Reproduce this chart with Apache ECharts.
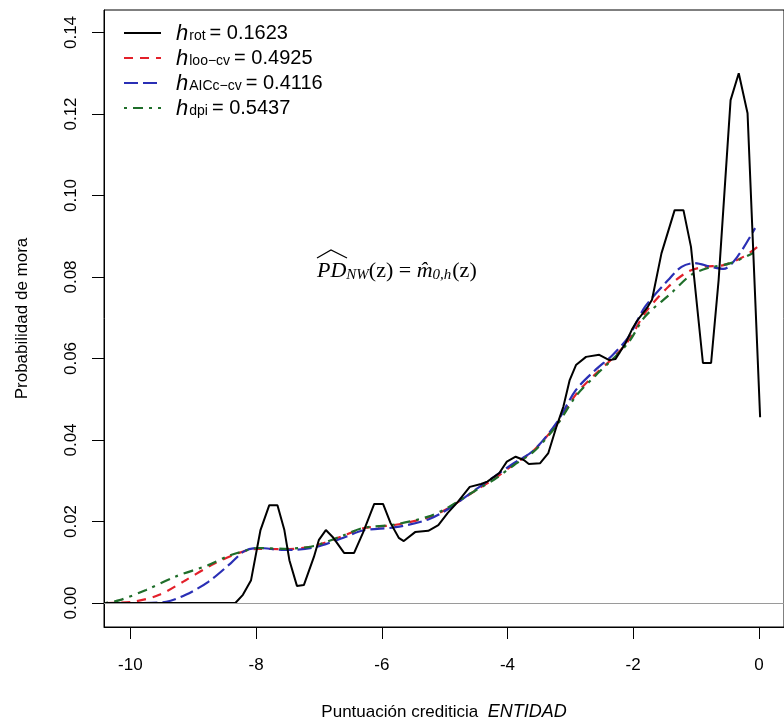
<!DOCTYPE html>
<html><head><meta charset="utf-8">
<script src="https://cdn.jsdelivr.net/npm/echarts@6/dist/echarts.min.js"></script>
<style>html,body{margin:0;padding:0;background:#fff}#c{width:784px;height:726px}</style>
</head><body><div id="c"></div>
<script>
// ---- data ----
const xTicks = [-10, -8, -6, -4, -2, 0];
const yTicks = [0, 0.02, 0.04, 0.06, 0.08, 0.10, 0.12, 0.14];

const rotLabel = 'rot', rotValue = '0.1623';
const looLabel = 'loo\u2212cv', looValue = '0.4925';
const aicLabel = 'AICc\u2212cv', aicValue = '0.4116';
const dpiLabel = 'dpi', dpiValue = '0.5437';

const rotX = [-10.4, -8.33, -8.21, -8.08, -7.93, -7.79, -7.66, -7.55, -7.47, -7.35, -7.24, -7.08, -7.00, -6.89, -6.77, -6.60, -6.44, -6.30, -6.12, -5.98, -5.86, -5.73, -5.65, -5.47, -5.26, -5.10, -4.95, -4.79, -4.60, -4.42, -4.32, -4.13, -4.01, -3.87, -3.74, -3.66, -3.48, -3.35, -3.22, -3.11, -3.01, -2.91, -2.75, -2.54, -2.38, -2.28, -2.12, -2.02, -1.94, -1.78, -1.70, -1.55, -1.34, -1.20, -1.08, -0.89, -0.76, -0.64, -0.45, -0.32, -0.18, 0.02];
const rotY = [0, 0, 0.0020, 0.0056, 0.0179, 0.0240, 0.0240, 0.0179, 0.0105, 0.0042, 0.0044, 0.0113, 0.0155, 0.0179, 0.0160, 0.0123, 0.0123, 0.0172, 0.0243, 0.0243, 0.0196, 0.0160, 0.0152, 0.0174, 0.0177, 0.0191, 0.0221, 0.0248, 0.0285, 0.0292, 0.0298, 0.0319, 0.0347, 0.0359, 0.0351, 0.0341, 0.0343, 0.0368, 0.0433, 0.0482, 0.0547, 0.0584, 0.0604, 0.0609, 0.0596, 0.0599, 0.0638, 0.0671, 0.0692, 0.0724, 0.0744, 0.0858, 0.0964, 0.0964, 0.0874, 0.0589, 0.0589, 0.0793, 0.1234, 0.1300, 0.1202, 0.0456];

const looX = [-10.4, -9.96, -9.54, -9.12, -8.71, -8.29, -7.97, -7.55, -7.08, -6.61, -6.30, -5.78, -5.26, -4.95, -4.52, -4.21, -3.90, -3.58, -3.22, -2.91, -2.60, -2.33, -2.07, -1.81, -1.44, -1.13, -0.87, -0.56, -0.24, 0.02];
const looY = [0, 0.0003, 0.0020, 0.0056, 0.0093, 0.0122, 0.0133, 0.0132, 0.0140, 0.0165, 0.0183, 0.0192, 0.0210, 0.0232, 0.0275, 0.0305, 0.0340, 0.0375, 0.0438, 0.0512, 0.0562, 0.0600, 0.0645, 0.0712, 0.0776, 0.0813, 0.0825, 0.0829, 0.0850, 0.0879];

const aicX = [-10.4, -9.8, -9.43, -9.12, -8.76, -8.40, -8.18, -7.97, -7.55, -7.08, -6.61, -6.30, -5.78, -5.26, -4.95, -4.52, -4.21, -3.90, -3.58, -3.22, -2.91, -2.60, -2.33, -2.07, -1.81, -1.44, -1.23, -1.03, -0.76, -0.56, -0.34, -0.06];
const aicY = [0, 0, 0.0003, 0.0020, 0.0052, 0.0098, 0.0128, 0.0135, 0.0130, 0.0136, 0.0160, 0.0178, 0.0186, 0.0205, 0.0230, 0.0277, 0.0310, 0.0343, 0.0375, 0.0442, 0.0523, 0.0572, 0.0608, 0.0654, 0.0727, 0.0793, 0.0825, 0.0834, 0.0825, 0.0820, 0.0850, 0.0920];

const dpiX = [-10.4, -10.17, -9.75, -9.28, -8.76, -8.40, -8.13, -7.97, -7.55, -7.08, -6.61, -6.30, -5.78, -5.26, -4.95, -4.52, -4.21, -3.90, -3.58, -3.22, -2.91, -2.60, -2.33, -2.07, -1.81, -1.39, -1.08, -0.81, -0.45, -0.09];
const dpiY = [0, 0.0007, 0.0032, 0.0065, 0.0093, 0.0118, 0.0130, 0.0135, 0.0133, 0.0140, 0.0166, 0.0184, 0.0193, 0.0212, 0.0234, 0.0275, 0.0303, 0.0338, 0.0372, 0.0435, 0.0508, 0.0558, 0.0598, 0.0640, 0.0703, 0.0761, 0.0805, 0.0822, 0.0834, 0.0859];

// ---- build ----
const pairs = (xs, ys) => xs.map((x, i) => [x, ys[i]]);
const SANS = '"Liberation Sans", Arial, sans-serif';
const SERIF = '"Liberation Serif", "DejaVu Serif", serif';

const chart = echarts.init(document.getElementById('c'), null, {renderer: 'canvas'});

function mk(name, data, color, type, width, smooth) {
  return {
    name, type: 'line', data, showSymbol: false, symbol: 'none', smooth,
    lineStyle: {color, width, type}, itemStyle: {color},
    z: 3, animation: false
  };
}

const names = ['rot', 'loo', 'aic', 'dpi'];
const legendText = {
  rot: [rotLabel, rotValue], loo: [looLabel, looValue],
  aic: [aicLabel, aicValue], dpi: [dpiLabel, dpiValue]
};

const series = [
  mk('rot', pairs(rotX, rotY), '#000000', 'solid', 2, false),
  mk('loo', pairs(looX, looY), '#e3202a', [9, 7], 2.2, 0.3),
  mk('aic', pairs(aicX, aicY), '#2a2fb5', [14, 5], 2.2, 0.3),
  mk('dpi', pairs(dpiX, dpiY), '#1f6e2a', [3, 6, 10, 6], 2.2, 0.3)
];
series[0].markLine = {
  silent: true, symbol: 'none', animation: false,
  label: {show: false},
  lineStyle: {color: '#9a9a9a', width: 1, type: 'solid'},
  data: [{yAxis: 0}]
};
series[0].z = 4;

chart.setOption({
  backgroundColor: '#ffffff',
  animation: false,
  grid: {left: 104, right: -10, top: 10, bottom: 99, show: true, borderColor: '#000', borderWidth: 1, backgroundColor: 'transparent'},
  xAxis: {
    type: 'value', min: -10.42, max: 0.4,
    name: 'Puntuación crediticia  {it|ENTIDAD}',
    nameLocation: 'middle', nameGap: 76,
    nameTextStyle: {color: '#000', fontFamily: SANS, fontSize: 17,
      rich: {it: {fontStyle: 'italic', fontFamily: SANS, fontSize: 18, color: '#000'}}},
    axisLine: {show: true, onZero: false, lineStyle: {color: '#000', width: 1}},
    axisTick: {show: true, length: 12, customValues: xTicks, lineStyle: {color: '#000'}},
    axisLabel: {show: true, customValues: xTicks, margin: 30, color: '#000', fontFamily: SANS, fontSize: 17,
      formatter: v => String(v)},
    splitLine: {show: false}
  },
  yAxis: {
    type: 'value', min: -0.00589, max: 0.14552,
    name: 'Probabilidad de mora',
    nameLocation: 'middle', nameGap: 73, nameRotate: 90,
    nameTextStyle: {color: '#000', fontFamily: SANS, fontSize: 17},
    axisLine: {show: true, onZero: false, lineStyle: {color: '#000', width: 1}},
    axisTick: {show: true, length: 12, customValues: yTicks, lineStyle: {color: '#000'}},
    axisLabel: {show: true, customValues: yTicks, rotate: 90, margin: 24, color: '#000', fontFamily: SANS, fontSize: 17,
      formatter: v => v.toFixed(2)},
    splitLine: {show: false}
  },
  legend: {
    show: true, orient: 'vertical', left: 118, top: 14,
    itemWidth: 37, itemHeight: 14, itemGap: -1,
    itemStyle: {opacity: 0},
    data: names,
    formatter: n => '{h|h}{s|' + legendText[n][0] + '}{v|= ' + legendText[n][1] + '}',
    textStyle: {
      color: '#000', fontFamily: SANS, fontSize: 20,
      rich: {
        h: {fontStyle: 'italic', fontFamily: SANS, fontSize: 22, lineHeight: 20, verticalAlign: 'top', padding: [0, 0, 0, 10], color: '#000'},
        s: {fontFamily: SANS, fontSize: 14, lineHeight: 13, padding: [10, 4, 0, 1], verticalAlign: 'bottom', color: '#000'},
        v: {fontFamily: SANS, fontSize: 20, lineHeight: 20, verticalAlign: 'top', color: '#000'}
      }
    }
  },
  graphic: [
    {
      type: 'text', left: 317, top: 257, silent: true,
      style: {
        text: '{it|PD}{sub|NW}{n|(z) = }{it|m\u0302}{sub|0,}{subit|h}{n|(z)}',
        fill: '#000',
        rich: {
          it: {fontFamily: SERIF, fontStyle: 'italic', fontSize: 22, lineHeight: 23, verticalAlign: 'top', fill: '#000'},
          n: {fontFamily: SERIF, fontSize: 22, lineHeight: 23, verticalAlign: 'top', fill: '#000'},
          sub: {fontFamily: SERIF, fontStyle: 'italic', fontSize: 15, lineHeight: 15, padding: [11, 0, 0, 0], verticalAlign: 'bottom', fill: '#000'},
          subit: {fontFamily: SERIF, fontStyle: 'italic', fontSize: 15, lineHeight: 15, padding: [11, 1, 0, 0], verticalAlign: 'bottom', fill: '#000'}
        }
      }
    },
    {
      type: 'polyline', silent: true,
      shape: {points: [[317, 258], [331, 250], [347, 258]]},
      style: {stroke: '#000', lineWidth: 1.2, fill: null}
    }
  ],
  series
});
</script>
</body></html>
